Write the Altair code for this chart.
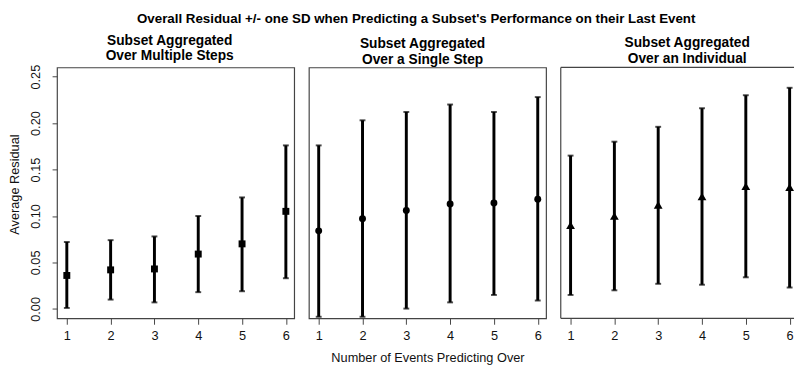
import altair as alt
import pandas as pd

steps = [1, 2, 3, 4, 5, 6]

multi_mean = [0.036, 0.042, 0.043, 0.059, 0.070, 0.105]
multi_lo = [0.001, 0.010, 0.007, 0.018, 0.019, 0.033]
multi_hi = [0.072, 0.074, 0.078, 0.100, 0.120, 0.176]

single_mean = [0.084, 0.097, 0.106, 0.113, 0.114, 0.118]
single_lo = [-0.0085, -0.0085, 0.0003, 0.007, 0.015, 0.009]
single_hi = [0.176, 0.203, 0.212, 0.220, 0.212, 0.228]

indiv_mean = [0.090, 0.100, 0.112, 0.121, 0.132, 0.131]
indiv_lo = [0.015, 0.020, 0.027, 0.026, 0.034, 0.023]
indiv_hi = [0.165, 0.180, 0.196, 0.216, 0.230, 0.238]

panel_titles = [
    ["Subset Aggregated", "Over Multiple Steps"],
    ["Subset Aggregated", "Over a Single Step"],
    ["Subset Aggregated", "Over an Individual"],
]
main_title = "Overall Residual +/- one SD when Predicting a Subset's Performance on their Last Event"
x_title = "Number of Events Predicting Over"
y_title = "Average Residual"
y_ticks = [0.0, 0.05, 0.10, 0.15, 0.20, 0.25]

FONT = "Liberation Sans"
PX_PER_UNIT = 44.7
X_MIN = 0.776
Y_DOMAIN = [-0.0102, 0.2599]
HEIGHT = 256
BOX = "#444444"


def panel(mean, lo, hi, shape, size, title, width, show_y, show_xtitle, title_dx, open_right):
    df = pd.DataFrame({"step": steps, "mean": mean, "lo": lo, "hi": hi})
    xdom = [X_MIN, X_MIN + width / PX_PER_UNIT]
    xaxis = alt.Axis(
        values=steps, format="d", grid=False, domain=False, tickSize=6,
        tickColor="#444", labelFontSize=13, labelColor="#111", labelPadding=6,
        labelFont=FONT, title=x_title if show_xtitle else "",
        titleFont=FONT, titleFontSize=13, titleFontWeight="normal",
        titleColor="#111", titlePadding=9,
    )
    x = alt.X("step:Q", scale=alt.Scale(domain=xdom, nice=False, zero=False), axis=xaxis)
    if show_y:
        yaxis = alt.Axis(
            values=y_ticks, format=".2f", grid=False, domain=False, tickSize=5,
            tickColor="#444", labelAngle=270, labelAlign="center",
            labelBaseline="bottom", labelFontSize=13, labelColor="#111",
            labelFont=FONT, labelPadding=10, title=y_title, titleFont=FONT,
            titleFontSize=13, titleFontWeight="normal", titleColor="#111",
            titlePadding=8, titleY=119,
        )
    else:
        yaxis = None
    yscale = alt.Scale(domain=Y_DOMAIN, nice=False, zero=False)
    base = alt.Chart(df)
    bars = base.mark_rule(color="black", strokeWidth=3).encode(
        x=x,
        y=alt.Y("lo:Q", scale=yscale, axis=yaxis),
        y2="hi:Q",
    )
    cap_lo = base.mark_tick(orient="horizontal", color="black", size=6, thickness=2).encode(
        x="step:Q", y="lo:Q"
    )
    cap_hi = base.mark_tick(orient="horizontal", color="black", size=6, thickness=2).encode(
        x="step:Q", y="hi:Q"
    )
    pts = base.mark_point(shape=shape, filled=True, color="black", size=size, opacity=1).encode(
        x="step:Q", y="mean:Q"
    )
    layers = [bars, cap_lo, cap_hi, pts]
    if open_right:
        edge = alt.Chart(pd.DataFrame({"k": [0]}))
        layers += [
            edge.mark_rule(color=BOX, strokeWidth=1.2).encode(
                x=alt.value(0), x2=alt.value(width), y=alt.value(0)),
            edge.mark_rule(color=BOX, strokeWidth=1.2).encode(
                x=alt.value(0), x2=alt.value(width), y=alt.value(HEIGHT)),
            edge.mark_rule(color=BOX, strokeWidth=1.2).encode(
                x=alt.value(0), y=alt.value(0), y2=alt.value(HEIGHT)),
        ]
        view = alt.ViewBackground(stroke="transparent", strokeWidth=0)
    else:
        view = alt.ViewBackground(stroke=BOX, strokeWidth=1.2)
    return alt.layer(*layers).properties(
        width=width,
        height=HEIGHT,
        view=view,
        title=alt.TitleParams(
            text=title, fontSize=14, font=FONT, fontWeight="bold", lineHeight=16,
            color="#000", offset=1, anchor="middle", dx=title_dx,
        ),
    )


p1 = panel(multi_mean, multi_lo, multi_hi, "square", 50, panel_titles[0], 242, True, False, -6, False)
p2 = panel(single_mean, single_lo, single_hi, "circle", 50, panel_titles[1], 242, False, True, -5, False)
p3 = panel(indiv_mean, indiv_lo, indiv_hi, "triangle-up", 80, panel_titles[2], 238, False, False, 10, True)

chart = alt.hconcat(p1, p2, p3, spacing=13).properties(
    title=alt.TitleParams(
        text=main_title, fontSize=13.6, font=FONT, fontWeight="bold", color="#000",
        anchor="middle", dx=15, offset=8,
    ),
    padding={"left": 0, "top": 0, "right": 0, "bottom": 0},
).configure(background="white")

chart.save("out.html", embed_options={"renderer": "svg", "actions": False})
